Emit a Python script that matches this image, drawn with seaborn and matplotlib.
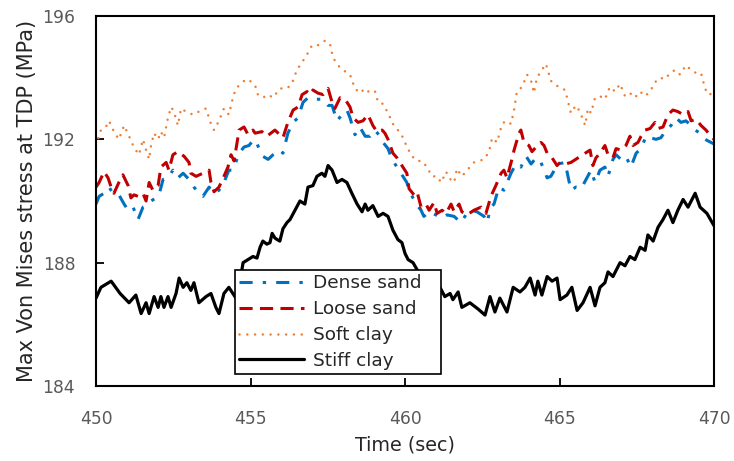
import matplotlib
matplotlib.use("Agg")
import matplotlib.pyplot as plt
import numpy as np
import pandas as pd
import seaborn as sns

sns.set_style("white")
plt.rcParams["font.family"] = ["DejaVu Sans"]

# ---------------- data ----------------
dense_t = [450.00, 450.10, 450.26, 450.42, 450.55, 450.74, 450.91, 451.04, 451.20, 451.36,
           451.52, 451.62, 451.78, 451.94, 452.04, 452.17, 452.33, 452.49, 452.65, 452.82,
           453.01, 453.17, 453.33, 453.46, 453.66, 453.82, 453.98, 454.14, 454.30, 454.43,
           454.63, 454.79, 454.95, 455.11, 455.21, 455.40, 455.57, 455.73, 455.95, 456.05,
           456.21, 456.38, 456.54, 456.70, 456.86, 457.02, 457.18, 457.35, 457.51, 457.64,
           457.80, 457.96, 458.12, 458.22, 458.38, 458.54, 458.71, 458.87, 459.03, 459.19,
           459.29, 459.45, 459.58, 459.74, 459.90, 460.06, 460.13, 460.36, 460.52, 460.61,
           460.78, 461.00, 461.20, 461.36, 461.59, 461.81, 461.97, 462.14, 462.33, 462.56,
           462.65, 462.78, 462.88, 463.04, 463.20, 463.43, 463.59, 463.75, 463.92, 464.08,
           464.24, 464.40, 464.60, 464.72, 464.95, 465.18, 465.37, 465.53, 465.70, 465.86,
           466.02, 466.15, 466.31, 466.47, 466.57, 466.73, 466.83, 466.99, 467.15, 467.31,
           467.48, 467.64, 467.80, 467.96, 468.12, 468.28, 468.45, 468.61, 468.77, 468.93,
           469.09, 469.26, 469.39, 469.55, 469.71, 469.90, 470.00]
dense_v = [189.90, 190.15, 190.25, 190.45, 190.25, 190.20, 189.90, 189.70, 189.80, 189.40,
           189.80, 189.85, 190.00, 190.10, 190.20, 190.70, 190.75, 191.00, 190.75, 190.90,
           190.70, 190.45, 190.25, 190.15, 190.45, 190.25, 190.35, 190.60, 191.00, 191.00,
           191.55, 191.75, 191.80, 192.00, 191.85, 191.45, 191.35, 191.50, 191.65, 191.55,
           192.20, 192.55, 192.70, 193.20, 193.35, 193.30, 193.30, 193.30, 193.10, 193.10,
           192.60, 192.80, 192.95, 192.70, 192.15, 192.40, 192.10, 192.10, 192.30, 192.10,
           191.90, 191.70, 191.35, 191.10, 190.85, 190.60, 190.35, 189.90, 189.70, 189.50,
           189.65, 189.55, 189.45, 189.55, 189.50, 189.30, 189.55, 189.70, 189.65, 189.50,
           189.30, 189.80, 189.90, 190.45, 190.35, 190.90, 191.20, 191.10, 191.45, 191.20,
           191.40, 191.25, 190.75, 190.80, 191.20, 191.25, 190.35, 190.45, 190.40, 190.70,
           191.00, 190.60, 191.00, 191.10, 190.80, 191.35, 191.50, 191.35, 191.45, 191.10,
           191.55, 191.70, 192.10, 192.05, 192.00, 192.05, 192.30, 192.45, 192.70, 192.55,
           192.60, 192.45, 192.30, 192.20, 192.00, 191.90, 191.85]

loose_t = [450.00, 450.10, 450.26, 450.39, 450.49, 450.58, 450.74, 450.87, 451.04, 451.13,
           451.23, 451.36, 451.52, 451.62, 451.72, 451.84, 452.01, 452.10, 452.27, 452.36,
           452.49, 452.65, 452.85, 453.01, 453.07, 453.24, 453.46, 453.66, 453.72, 453.82,
           453.98, 454.14, 454.27, 454.37, 454.47, 454.63, 454.79, 454.92, 455.08, 455.15,
           455.37, 455.53, 455.79, 455.95, 456.05, 456.21, 456.38, 456.54, 456.67, 456.83,
           456.93, 457.02, 457.18, 457.35, 457.51, 457.64, 457.73, 457.90, 458.06, 458.22,
           458.32, 458.48, 458.64, 458.80, 458.96, 459.09, 459.26, 459.35, 459.45, 459.61,
           459.74, 459.90, 460.06, 460.13, 460.29, 460.39, 460.52, 460.68, 460.78, 460.94,
           461.04, 461.20, 461.33, 461.49, 461.59, 461.75, 461.84, 462.01, 462.23, 462.46,
           462.62, 462.78, 462.94, 463.11, 463.20, 463.30, 463.46, 463.53, 463.69, 463.75,
           463.85, 464.01, 464.11, 464.24, 464.40, 464.50, 464.60, 464.76, 464.92, 465.02,
           465.18, 465.37, 465.60, 465.83, 465.99, 466.08, 466.18, 466.31, 466.47, 466.57,
           466.73, 466.83, 466.99, 467.15, 467.28, 467.38, 467.54, 467.64, 467.77, 467.93,
           468.09, 468.19, 468.35, 468.51, 468.67, 468.83, 469.00, 469.16, 469.26, 469.42,
           469.58, 469.74, 469.90, 470.00]
loose_v = [190.45, 190.60, 190.95, 190.75, 190.45, 190.25, 190.60, 190.85, 190.50, 190.10,
           190.20, 190.15, 190.25, 190.00, 190.60, 190.35, 190.50, 191.10, 191.25, 191.00,
           191.50, 191.60, 191.45, 191.25, 190.90, 190.80, 190.90, 191.00, 190.60, 190.30,
           190.45, 190.80, 191.10, 191.50, 191.30, 192.30, 192.40, 192.15, 192.30, 192.20,
           192.25, 192.10, 192.30, 192.15, 192.05, 192.55, 192.95, 193.05, 193.45, 193.55,
           193.45, 193.60, 193.50, 193.45, 193.65, 193.20, 193.00, 193.35, 193.30, 193.05,
           192.70, 192.55, 192.60, 192.80, 192.45, 192.25, 192.30, 192.20, 192.00, 191.55,
           191.40, 191.15, 190.90, 190.40, 190.20, 190.30, 189.80, 189.90, 189.70, 189.95,
           189.60, 189.70, 189.60, 189.90, 189.65, 189.90, 189.65, 189.55, 189.70, 189.80,
           189.60, 190.15, 190.50, 190.90, 191.00, 190.75, 191.35, 191.65, 192.20, 192.30,
           191.90, 191.80, 191.60, 191.75, 191.90, 191.80, 191.55, 191.40, 191.15, 191.25,
           191.20, 191.25, 191.40, 191.55, 191.65, 191.15, 191.40, 191.55, 191.80, 191.50,
           191.40, 191.70, 191.65, 191.80, 192.10, 191.80, 191.90, 192.10, 192.30, 192.35,
           192.55, 192.35, 192.40, 192.80, 192.95, 192.90, 192.80, 192.90, 192.60, 192.65,
           192.45, 192.30, 192.10, 192.00]

soft_t = [450.00, 450.16, 450.32, 450.42, 450.58, 450.74, 450.91, 451.07, 451.20, 451.29,
          451.39, 451.52, 451.62, 451.72, 451.78, 451.88, 452.01, 452.10, 452.20, 452.33,
          452.43, 452.52, 452.65, 452.75, 452.91, 453.14, 453.33, 453.56, 453.72, 453.82,
          453.98, 454.14, 454.30, 454.43, 454.53, 454.69, 454.85, 454.98, 455.15, 455.24,
          455.40, 455.57, 455.73, 455.95, 456.18, 456.34, 456.50, 456.67, 456.83, 456.99,
          457.18, 457.41, 457.57, 457.67, 457.83, 457.99, 458.22, 458.38, 458.54, 458.71,
          458.87, 459.03, 459.13, 459.29, 459.45, 459.61, 459.77, 459.94, 460.06, 460.23,
          460.39, 460.55, 460.71, 460.87, 461.04, 461.17, 461.33, 461.42, 461.59, 461.68,
          461.84, 462.01, 462.23, 462.39, 462.56, 462.72, 462.82, 462.98, 463.14, 463.27,
          463.43, 463.53, 463.62, 463.79, 463.95, 464.08, 464.17, 464.27, 464.43, 464.56,
          464.72, 464.89, 465.18, 465.28, 465.37, 465.53, 465.66, 465.83, 465.92, 466.02,
          466.15, 466.31, 466.47, 466.63, 466.80, 466.96, 467.12, 467.28, 467.44, 467.61,
          467.77, 467.93, 468.09, 468.25, 468.41, 468.58, 468.74, 468.90, 469.09, 469.26,
          469.42, 469.58, 469.71, 469.81, 470.00]
soft_v = [191.80, 192.30, 192.40, 192.60, 192.25, 192.00, 192.45, 192.10, 191.80, 191.65,
          191.50, 192.00, 191.65, 191.35, 191.80, 192.20, 192.00, 192.25, 192.05, 192.70,
          193.05, 192.90, 192.45, 193.00, 192.90, 192.80, 192.90, 193.00, 192.50, 192.30,
          192.60, 193.00, 192.80, 193.35, 193.65, 193.80, 193.95, 193.90, 193.75, 193.45,
          193.35, 193.45, 193.35, 193.65, 193.65, 193.80, 194.25, 194.50, 194.75, 195.05,
          195.05, 195.20, 195.10, 194.65, 194.40, 194.25, 194.10, 193.65, 193.50, 193.65,
          193.50, 193.55, 193.20, 193.15, 192.85, 192.50, 192.30, 192.05, 191.75, 191.45,
          191.30, 191.30, 191.10, 190.80, 190.80, 190.60, 190.95, 190.75, 190.60, 191.05,
          190.80, 191.00, 191.25, 191.30, 191.35, 191.60, 192.05, 191.90, 192.50, 192.60,
          192.50, 192.95, 193.55, 193.70, 194.10, 193.90, 193.50, 194.00, 194.25, 194.45,
          193.90, 193.75, 193.60, 193.20, 192.85, 193.10, 192.90, 192.45, 193.00, 192.85,
          193.35, 193.40, 193.30, 193.70, 193.55, 193.80, 193.40, 193.50, 193.35, 193.55,
          193.40, 193.55, 193.85, 194.00, 193.95, 194.15, 194.25, 194.10, 194.40, 194.25,
          194.15, 194.15, 193.65, 193.45, 193.50]

stiff_t = [450.00, 450.16, 450.49, 450.78, 451.07, 451.29, 451.46, 451.62, 451.72, 451.88,
           452.01, 452.10, 452.20, 452.33, 452.43, 452.59, 452.69, 452.82, 452.94, 453.07,
           453.17, 453.33, 453.56, 453.72, 453.88, 453.98, 454.14, 454.30, 454.43, 454.56,
           454.76, 454.92, 455.08, 455.21, 455.31, 455.40, 455.53, 455.63, 455.70, 455.79,
           455.86, 455.95, 456.05, 456.18, 456.28, 456.44, 456.60, 456.76, 456.86, 457.02,
           457.15, 457.31, 457.41, 457.51, 457.64, 457.80, 457.96, 458.12, 458.28, 458.45,
           458.61, 458.71, 458.80, 458.96, 459.13, 459.29, 459.45, 459.61, 459.77, 459.90,
           460.00, 460.10, 460.26, 460.49, 460.81, 461.13, 461.29, 461.46, 461.55, 461.72,
           461.84, 462.10, 462.36, 462.59, 462.75, 462.91, 463.07, 463.30, 463.50, 463.72,
           463.88, 464.05, 464.21, 464.30, 464.43, 464.60, 464.76, 464.92, 465.02, 465.24,
           465.40, 465.57, 465.76, 465.99, 466.15, 466.31, 466.47, 466.57, 466.73, 466.96,
           467.12, 467.28, 467.44, 467.61, 467.77, 467.86, 468.03, 468.19, 468.35, 468.51,
           468.67, 468.83, 469.00, 469.16, 469.39, 469.55, 469.77, 470.00]
stiff_v = [186.85, 187.20, 187.40, 187.00, 186.70, 186.95, 186.35, 186.70, 186.35, 186.90,
           186.55, 186.90, 186.55, 186.90, 186.55, 187.00, 187.50, 187.20, 187.35, 187.10,
           187.35, 186.70, 186.90, 187.00, 186.55, 186.35, 187.00, 187.20, 187.00, 186.80,
           188.00, 188.10, 188.20, 188.15, 188.50, 188.70, 188.60, 188.65, 188.95, 188.80,
           188.75, 188.70, 189.10, 189.30, 189.40, 189.70, 190.00, 189.90, 190.45, 190.50,
           190.80, 190.90, 190.80, 191.15, 191.00, 190.60, 190.70, 190.60, 190.25, 189.90,
           189.65, 189.90, 189.70, 189.85, 189.50, 189.60, 189.50, 189.05, 188.75, 188.65,
           188.30, 188.10, 188.00, 187.60, 187.30, 187.20, 186.90, 187.00, 186.80, 187.05,
           186.55, 186.70, 186.50, 186.30, 186.90, 186.40, 186.85, 186.40, 187.20, 187.05,
           187.20, 187.50, 186.95, 187.40, 186.95, 187.55, 187.40, 187.50, 186.80, 186.95,
           187.20, 186.45, 186.70, 187.20, 186.60, 187.20, 187.35, 187.70, 187.55, 188.00,
           187.90, 188.20, 188.10, 188.50, 188.40, 188.90, 188.70, 189.15, 189.40, 189.70,
           189.30, 189.70, 190.05, 189.80, 190.25, 189.80, 189.60, 189.20]

series_names = ["Dense sand", "Loose sand", "Soft clay", "Stiff clay"]
series_colors = ["#0070C0", "#C00000", "#ED7D31", "#000000"]
x_ticks = [450, 455, 460, 465, 470]
y_ticks = [184, 188, 192, 196]

# ---------------- figure ----------------
W, H = 734, 461
fig = plt.figure(figsize=(W / 100, H / 100), dpi=100)
ax = fig.add_axes([96 / W, (H - 386) / H, 618 / W, 370 / H])

styles = [
    dict(lw=2.2, linestyle=(0, (4.3, 3.3, 1.1, 3.3))),
    dict(lw=2.2, linestyle=(0, (4.3, 2.4))),
    dict(lw=1.8, linestyle=(0, (0.01, 3.1)), dash_capstyle="round"),
    dict(lw=2.3, linestyle="-"),
]
data = [(dense_t, dense_v), (loose_t, loose_v), (soft_t, soft_v), (stiff_t, stiff_v)]

for name, (t, v), color, st in zip(series_names, data, series_colors, styles):
    df = pd.DataFrame({"Time": t, "Stress": v})
    sns.lineplot(data=df, x="Time", y="Stress", ax=ax, color=color,
                 label=name, errorbar=None, **st)

ax.set_xlim(450, 470)
ax.set_ylim(184, 196)
ax.set_xticks(x_ticks)
ax.set_yticks(y_ticks)

for sp in ax.spines.values():
    sp.set_visible(True)
    sp.set_color("black")
    sp.set_linewidth(1.5)

ax.tick_params(axis="x", which="major", bottom=True, top=False, direction="in",
               length=6, width=1.3, pad=17.5, labelsize=12.3, color="black")
ax.tick_params(axis="y", which="major", left=True, right=False, direction="in",
               length=6, width=1.3, pad=15, labelsize=12.3, color="black")
for lab in ax.get_xticklabels() + ax.get_yticklabels():
    lab.set_color("#595959")

ax.set_xlabel("Time (sec)", fontsize=13.8, color="#262626", labelpad=5)
ax.set_ylabel("Max Von Mises stress at TDP (MPa)", fontsize=15, color="#262626", labelpad=4)

leg = ax.legend(loc="lower left", bbox_to_anchor=(139 / 618, 12 / 370, 206 / 618, 0.3),
                mode="expand", frameon=True, fancybox=False, edgecolor="black",
                framealpha=1, borderaxespad=0, handlelength=3.5, handletextpad=0.5,
                labelspacing=0.43, borderpad=0.22, fontsize=13.3)
leg.get_frame().set_linewidth(1.2)
for txt in leg.get_texts():
    txt.set_color("#262626")

fig.savefig("out.png", dpi=100)
